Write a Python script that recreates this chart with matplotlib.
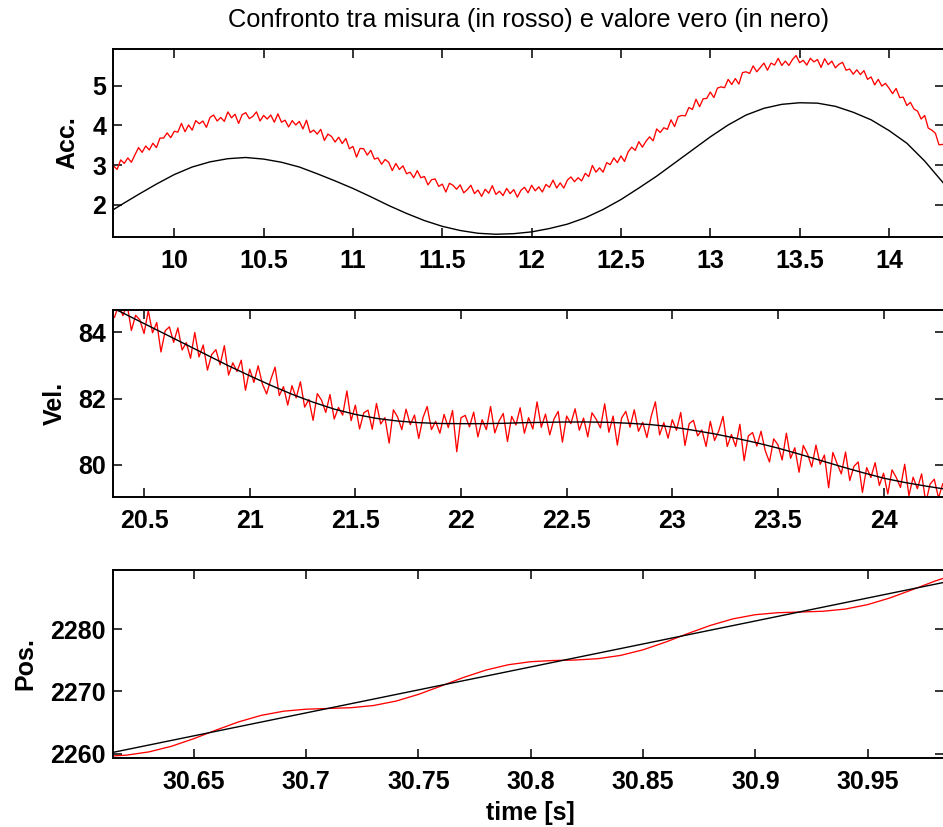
import numpy as np
import matplotlib
matplotlib.use("Agg")
import matplotlib.pyplot as plt
from matplotlib.ticker import FixedLocator, FormatStrFormatter

plt.rcParams['font.family'] = ['Liberation Sans', 'DejaVu Sans']

# ---------------- data ----------------
# Acceleration window
acc_t0, acc_dt = 9.66, 0.02
acc_meas = [2.98, 2.89, 3.13, 3.04, 3.18, 3.07, 3.26, 3.44, 3.32, 3.48, 3.38, 3.55, 3.44, 3.68, 3.68, 3.81, 3.69, 3.85, 3.83, 4.05,
            3.84, 4.01, 3.88, 4.12, 4.04, 4.11, 3.95, 4.20, 4.26, 4.11, 4.20, 4.10, 4.34, 4.19, 4.28, 4.05, 4.27, 4.32, 4.17, 4.23,
            4.34, 4.11, 4.25, 4.16, 4.26, 4.08, 4.29, 4.08, 4.13, 3.96, 4.12, 4.01, 4.10, 3.91, 4.13, 3.82, 3.88, 3.78, 3.90, 3.62,
            3.78, 3.72, 3.58, 3.70, 3.54, 3.67, 3.41, 3.47, 3.20, 3.42, 3.41, 3.25, 3.37, 3.15, 3.18, 3.02, 3.14, 3.07, 2.86, 3.04,
            2.89, 2.98, 2.78, 2.82, 2.68, 2.86, 2.68, 2.71, 2.50, 2.63, 2.65, 2.46, 2.52, 2.32, 2.54, 2.49, 2.39, 2.50, 2.30, 2.38,
            2.49, 2.28, 2.37, 2.21, 2.39, 2.29, 2.48, 2.26, 2.34, 2.23, 2.41, 2.28, 2.38, 2.19, 2.36, 2.44, 2.30, 2.49, 2.35, 2.45,
            2.32, 2.51, 2.44, 2.62, 2.42, 2.55, 2.42, 2.62, 2.70, 2.58, 2.68, 2.60, 2.79, 2.71, 2.99, 2.82, 2.93, 2.82, 3.06, 3.01,
            3.18, 3.06, 3.23, 3.09, 3.33, 3.45, 3.37, 3.59, 3.45, 3.60, 3.71, 3.61, 3.91, 3.82, 3.94, 3.90, 4.14, 3.97, 4.22, 4.25,
            4.24, 4.45, 4.40, 4.66, 4.47, 4.67, 4.68, 4.84, 4.70, 4.94, 4.97, 4.95, 5.16, 5.03, 5.18, 5.04, 5.33, 5.35, 5.31, 5.50,
            5.35, 5.46, 5.57, 5.39, 5.57, 5.52, 5.69, 5.51, 5.62, 5.51, 5.66, 5.76, 5.58, 5.64, 5.52, 5.69, 5.60, 5.66, 5.46, 5.68,
            5.53, 5.62, 5.45, 5.54, 5.59, 5.39, 5.42, 5.29, 5.40, 5.28, 5.38, 5.16, 5.22, 5.02, 5.16, 4.99, 5.06, 4.94, 4.80, 4.93,
            4.70, 4.71, 4.50, 4.58, 4.41, 4.36, 4.16, 4.25, 3.93, 3.88, 3.80, 3.51, 3.52]
acc_true_t0, acc_true_dt = 9.6, 0.1
acc_true = [1.71, 1.99, 2.26, 2.52, 2.76, 2.95, 3.08, 3.16, 3.19, 3.15, 3.07, 2.95, 2.78, 2.60, 2.41, 2.20, 1.98, 1.78,
            1.60, 1.455, 1.35, 1.28, 1.255, 1.27, 1.315, 1.40, 1.51, 1.67, 1.88, 2.13, 2.42, 2.72, 3.05, 3.38, 3.71, 4.01,
            4.26, 4.43, 4.53, 4.57, 4.56, 4.48, 4.33, 4.14, 3.87, 3.55, 3.10, 2.57, 2.00]

# Velocity window
vel_t0, vel_dt = 20.36, 0.02
vel_meas = [84.46, 84.83, 84.51, 84.85, 84.06, 84.52, 84.38, 83.97, 84.66, 83.99, 84.30, 83.41, 84.05, 84.17, 83.70, 84.14, 83.47, 83.69, 83.22, 84.00,
            83.26, 83.62, 82.86, 83.33, 83.48, 83.02, 83.60, 82.71, 83.08, 82.82, 83.16, 82.25, 82.89, 82.49, 82.99, 82.44, 82.14, 82.58, 82.95, 82.09,
            82.36, 81.80, 82.39, 82.02, 82.51, 81.74, 81.97, 81.34, 82.15, 81.95, 81.58, 82.12, 81.38, 81.73, 81.50, 82.23, 81.33, 81.80, 81.08, 81.57,
            81.65, 81.07, 81.85, 81.23, 81.42, 80.65, 81.66, 81.44, 81.06, 81.68, 81.21, 81.50, 80.79, 81.42, 81.76, 81.06, 81.31, 80.95, 81.52, 81.12,
            81.64, 80.39, 81.42, 81.49, 81.14, 81.59, 80.84, 81.36, 81.06, 81.76, 80.96, 81.32, 81.55, 80.70, 81.46, 81.20, 81.72, 80.95, 81.42, 81.08,
            81.90, 81.13, 81.53, 80.90, 81.38, 81.61, 80.68, 81.47, 81.24, 81.69, 81.04, 81.41, 80.84, 81.57, 81.37, 81.11, 81.84, 80.98, 81.47, 80.59,
            81.41, 81.61, 81.13, 81.66, 81.01, 81.28, 80.82, 81.46, 81.90, 80.90, 81.27, 80.80, 81.36, 81.04, 81.58, 80.58, 81.24, 81.34, 80.87, 81.05,
            80.55, 81.31, 80.73, 81.02, 81.46, 80.55, 80.91, 80.55, 81.22, 80.12, 80.87, 80.97, 80.56, 81.01, 80.42, 80.08, 80.78, 80.60, 80.14, 80.95,
            80.19, 80.51, 79.77, 80.58, 80.32, 79.93, 80.59, 80.01, 80.29, 79.30, 80.37, 80.03, 79.72, 80.38, 79.52, 79.95, 80.08, 79.16, 79.91, 79.61,
            80.06, 79.37, 79.74, 79.11, 79.84, 79.61, 79.31, 80.01, 79.06, 79.62, 79.27, 79.72, 78.85, 79.41, 79.56, 78.99, 79.42]
vel_true_t0, vel_true_dt = 20.3, 0.1
vel_true = [84.90, 84.59, 84.27, 83.95, 83.63, 83.31, 82.99, 82.69, 82.40, 82.13, 81.89, 81.68, 81.52, 81.40, 81.32, 81.27,
            81.245, 81.24, 81.24, 81.25, 81.27, 81.28, 81.29, 81.29, 81.28, 81.25, 81.21, 81.14, 81.04, 80.93, 80.80, 80.66,
            80.50, 80.32, 80.13, 79.94, 79.76, 79.59, 79.46, 79.35, 79.25]

# Position window
pos_t0, pos_dt = 30.61, 0.01
pos_meas = [2259.55, 2259.76, 2260.28, 2261.18, 2262.41, 2263.80, 2265.11, 2266.15, 2266.82, 2267.14,
            2267.26, 2267.38, 2267.73, 2268.44, 2269.52, 2270.85, 2272.23, 2273.42, 2274.28, 2274.77,
            2274.96, 2275.04, 2275.26, 2275.78, 2276.68, 2277.91, 2279.30, 2280.60, 2281.65, 2282.32,
            2282.64, 2282.75, 2282.87, 2283.22, 2283.94, 2285.02, 2286.35, 2287.72, 2288.92]
pos_true_t0, pos_true_dt = 30.60, 0.05
pos_true = [2259.17, 2262.86, 2266.55, 2270.24, 2273.93, 2277.62, 2281.31, 2285.00, 2288.69]

acc_xticks = [10, 10.5, 11, 11.5, 12, 12.5, 13, 13.5, 14]
acc_yticks = [2, 3, 4, 5]
vel_xticks = [20.5, 21, 21.5, 22, 22.5, 23, 23.5, 24]
vel_yticks = [80, 82, 84]
pos_xticks = [30.65, 30.7, 30.75, 30.8, 30.85, 30.9, 30.95]
pos_yticks = [2260, 2270, 2280]

title_text = "Confronto tra misura (in rosso) e valore vero (in nero)"
xlabel_text = "time [s]"

# ---------------- figure ----------------
W, H = 943, 827
fig = plt.figure(figsize=(W / 100, H / 100), dpi=100)


def axes_px(l, t, r, b):
    return fig.add_axes([l / W, 1 - b / H, (r - l) / W, (b - t) / H])


def series(t0, dt, vals):
    return t0 + dt * np.arange(len(vals)), np.asarray(vals)


panels = [
    (axes_px(113, 49, 944, 237), (acc_t0, acc_dt, acc_meas), (acc_true_t0, acc_true_dt, acc_true),
     (9.657, 14.308), (1.186, 5.925), acc_xticks, acc_yticks, "Acc.", -0.040),
    (axes_px(113, 310, 944, 497), (vel_t0, vel_dt, vel_meas), (vel_true_t0, vel_true_dt, vel_true),
     (20.353, 24.286), (79.02, 84.68), vel_xticks, vel_yticks, "Vel.", -0.056),
    (axes_px(113, 570, 944, 758), (pos_t0, pos_dt, pos_meas), (pos_true_t0, pos_true_dt, pos_true),
     (30.614, 30.984), (2259.3, 2289.5), pos_xticks, pos_yticks, "Pos.", -0.091),
]

for ax, meas, true, xl, yl, xt, yt, lab, lx in panels:
    tm, vm = series(*meas)
    tt, vt = series(*true)
    ax.plot(tm, vm, color='#ff0000', lw=0.95, zorder=2)
    ax.plot(tt, vt, color='black', lw=1.0, zorder=3)
    ax.set_xlim(*xl)
    ax.set_ylim(*yl)
    ax.xaxis.set_major_locator(FixedLocator(xt))
    ax.yaxis.set_major_locator(FixedLocator(yt))
    ax.xaxis.set_major_formatter(FormatStrFormatter('%g'))
    ax.yaxis.set_major_formatter(FormatStrFormatter('%g'))
    ax.tick_params(direction='in', top=True, right=True, length=6.5, width=1.1,
                   labelsize=18)
    ax.tick_params(axis='x', pad=8.5)
    ax.tick_params(axis='y', pad=5)
    for lbl in ax.get_xticklabels() + ax.get_yticklabels():
        lbl.set_fontweight('bold')
    for sp in ax.spines.values():
        sp.set_linewidth(1.4)
    ax.set_ylabel(lab, fontsize=18, fontweight='bold')
    ax.yaxis.set_label_coords(lx, 0.5)

fig.text(529 / W, 1 - 20 / H, title_text, ha='center', va='center', fontsize=18.3)
fig.text(530 / W, 1 - 813 / H, xlabel_text, ha='center', va='center', fontsize=18,
         fontweight='bold')

fig.savefig("out.png", dpi=100)
